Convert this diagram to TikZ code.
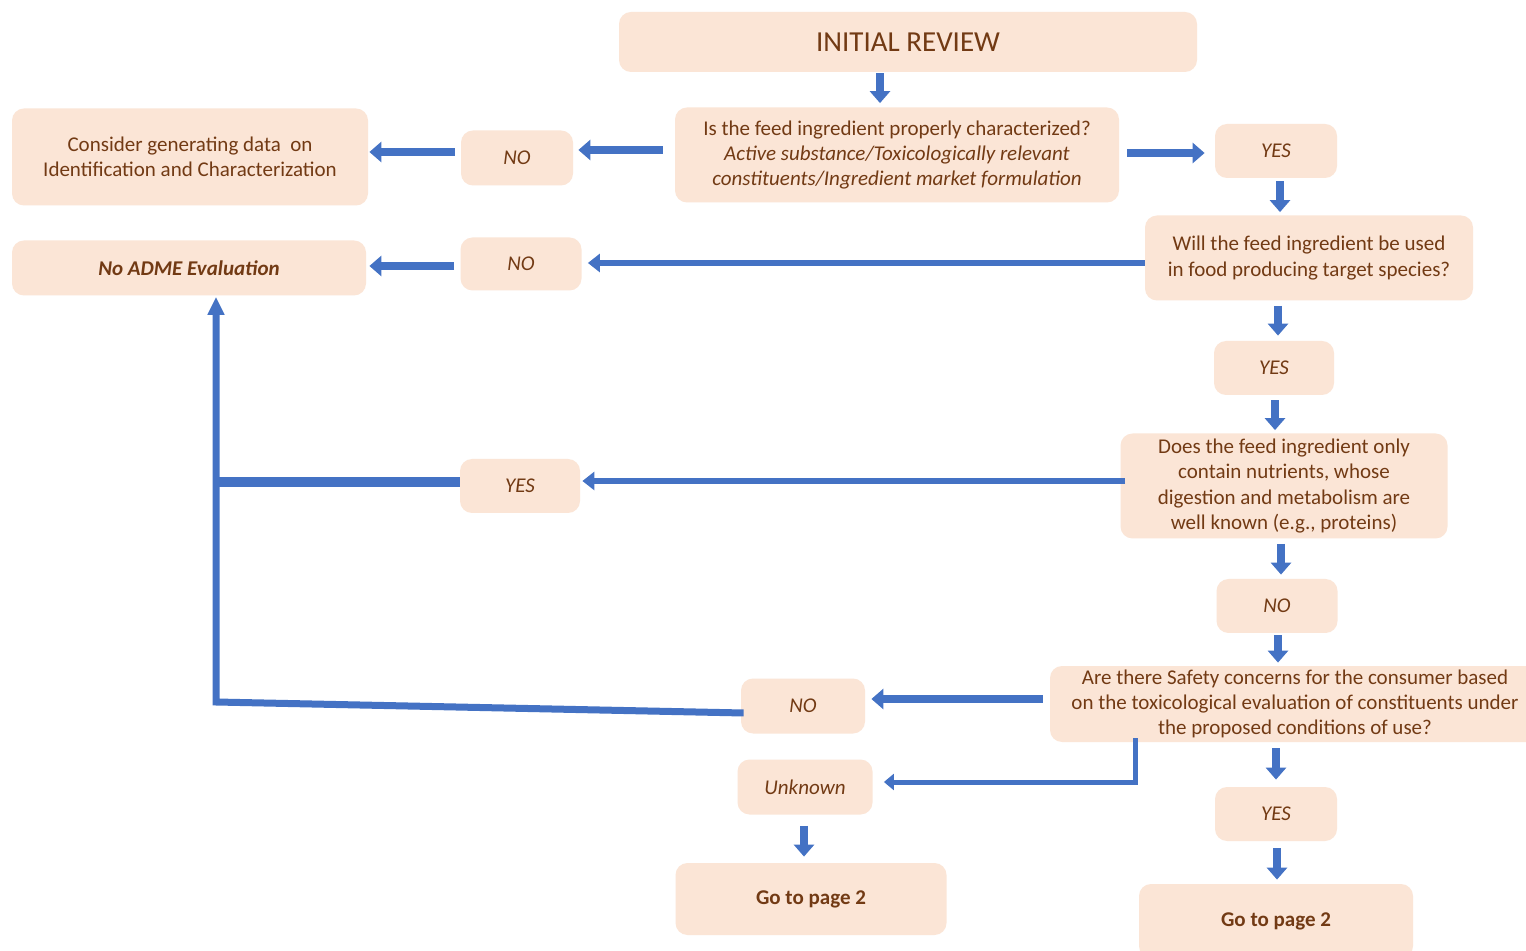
\documentclass[tikz,border=0pt]{standalone}
\usepackage{fontspec}
\setmainfont{Carlito}
\usetikzlibrary{arrows.meta,calc}
\definecolor{boxfill}{HTML}{FBE5D6}
\definecolor{txt}{HTML}{723A14}
\definecolor{arr}{HTML}{4472C4}
\newcommand{\bx}{\fontsize{10.5}{12.6}\selectfont}
\begin{document}
\begin{tikzpicture}[x=0.5pt,y=-0.5pt,
  box/.style={fill=boxfill, rounded corners=6pt, inner sep=0pt, align=center, text=txt, font=\bx},
  itbox/.style={box, font=\bx\itshape},
  blk/.style={draw=arr, line width=4pt, -{Triangle[length=6pt,width=10pt]}},
  thinblk/.style={draw=arr, line width=3pt, -{Triangle[length=6pt,width=9pt]}},
  link/.style={draw=arr, line width=3.5pt},
]
\useasboundingbox (0,0) rectangle (1526,951);
\clip (0,0) rectangle (1526,951);
\fill[white] (0,0) rectangle (1526,951);

\node[box, minimum width=289pt, minimum height=30pt, font=\fontsize{14.5}{17}\selectfont] (init) at (908,42) {INITIAL REVIEW};
\node[box, minimum width=222pt, minimum height=47.5pt] (q1) at (897,155) {Is the feed ingredient properly characterized?\\ \itshape Active substance/Toxicologically relevant\\ \itshape constituents/Ingredient market formulation};
\node[itbox, minimum width=56pt, minimum height=27.5pt] (no1) at (517,158) {NO};
\node[box, minimum width=178pt, minimum height=48.5pt] (cons) at (190,157) {Consider generating data\ \ on\\ Identification and Characterization};
\node[itbox, minimum width=61pt, minimum height=27pt] (yes1) at (1276,151) {YES};
\node[box, minimum width=164pt, minimum height=42.5pt] (q2) at (1309,258) {Will the feed ingredient be used\\ in food producing target species?};
\node[itbox, minimum width=60.5pt, minimum height=26.5pt] (no2) at (521,264) {NO};
\node[box, minimum width=177pt, minimum height=27.5pt, font=\bx\bfseries\itshape] (noadme) at (189,268) {No ADME Evaluation};
\node[itbox, minimum width=60pt, minimum height=27pt] (yes2) at (1274,368) {YES};
\node[box, minimum width=163.5pt, minimum height=52.5pt] (q3) at (1284,486) {Does the feed ingredient only\\ contain nutrients, whose\\ digestion and metabolism are\\ well known (e.g., proteins)};
\node[itbox, minimum width=60pt, minimum height=27pt] (yes3) at (520,486) {YES};
\node[itbox, minimum width=60.5pt, minimum height=27pt] (no3) at (1277,606) {NO};
\node[box, minimum width=245pt, minimum height=38pt] (q4) at (1295,704) {Are there Safety concerns for the consumer based\\ on the toxicological evaluation of constituents under\\ the proposed conditions of use?};
\node[itbox, minimum width=62pt, minimum height=27.5pt] (no4) at (803,706) {NO};
\node[itbox, minimum width=67.5pt, minimum height=27.5pt] (unk) at (805,787) {Unknown};
\node[box, minimum width=135.5pt, minimum height=36pt, font=\bx\bfseries] (go1) at (811,899) {Go to page 2};
\node[itbox, minimum width=61pt, minimum height=27pt] (yes4) at (1276,814) {YES};
\node[box, minimum width=137pt, minimum height=37pt, font=\bx\bfseries] (go2) at (1276,921) {Go to page 2};

\coordinate (junc) at (216,482);
\coordinate (corner) at (216,702);

\draw[blk] ($(init.south)+(-28,1)$) -- ($(q1.north)+(-17,-4)$);
\draw[blk] ($(q1.west)+(-12,-5)$) -- ($(no1.east)+(5,-8)$);
\draw[blk] ($(no1.west)+(-6,-6)$) -- ($(cons.east)+(1,-5)$);
\draw[blk] ($(q1.east)+(8,-2)$) -- ($(yes1.west)+(-10,2)$);
\draw[blk] ($(yes1.south)+(4,3)$) -- ($(q2.north)+(-29,-3)$);
\draw[thinblk] ($(q2.west)+(0,5)$) -- ($(no2.east)+(6,-1)$);
\draw[blk] ($(no2.west)+(-6,2)$) -- ($(noadme.east)+(3,-2)$);
\draw[blk] ($(q2.south)+(-31,5)$) -- ($(yes2.north)+(4,-5)$);
\draw[blk] ($(yes2.south)+(1,5)$) -- ($(q3.north)+(-9,-3)$);
\draw[thinblk] ($(q3.west)+(5,-5)$) -- ($(yes3.east)+(2,-5)$);
\draw[draw=arr, line width=5pt] ($(yes3.west)+(0,-4)$) -- ($(junc)+(-1,0)$);
\draw[link, -{Triangle[length=9pt,width=8pt]}] ($(no4.west)+(3,7)$) -- (corner) -- ($(noadme.south)+(27,1)$);
\draw[blk] ($(q3.south)+(-3,5)$) -- ($(no3.north)+(4,-4)$);
\draw[blk] ($(no3.south)+(1,2)$) -- ($(q4.north)+(-17,-3)$);
\draw[blk] ($(q4.west)+(-7,-5)$) -- ($(no4.east)+(6,-7)$);
\draw[draw=arr, line width=2.5pt, -{Triangle[length=5pt,width=8pt]}] ($(q4.south)+(-160,-4)$) |- ($(unk.east)+(11,-5)$);
\draw[blk] ($(q4.south)+(-19,6)$) -- ($(yes4.north)+(0,-7)$);
\draw[blk] ($(unk.south)+(-1,11)$) -- ($(go1.north)+(-7,-6)$);
\draw[blk] ($(yes4.south)+(1,7)$) -- ($(go2.north)+(1,-4)$);
\end{tikzpicture}
\end{document}
